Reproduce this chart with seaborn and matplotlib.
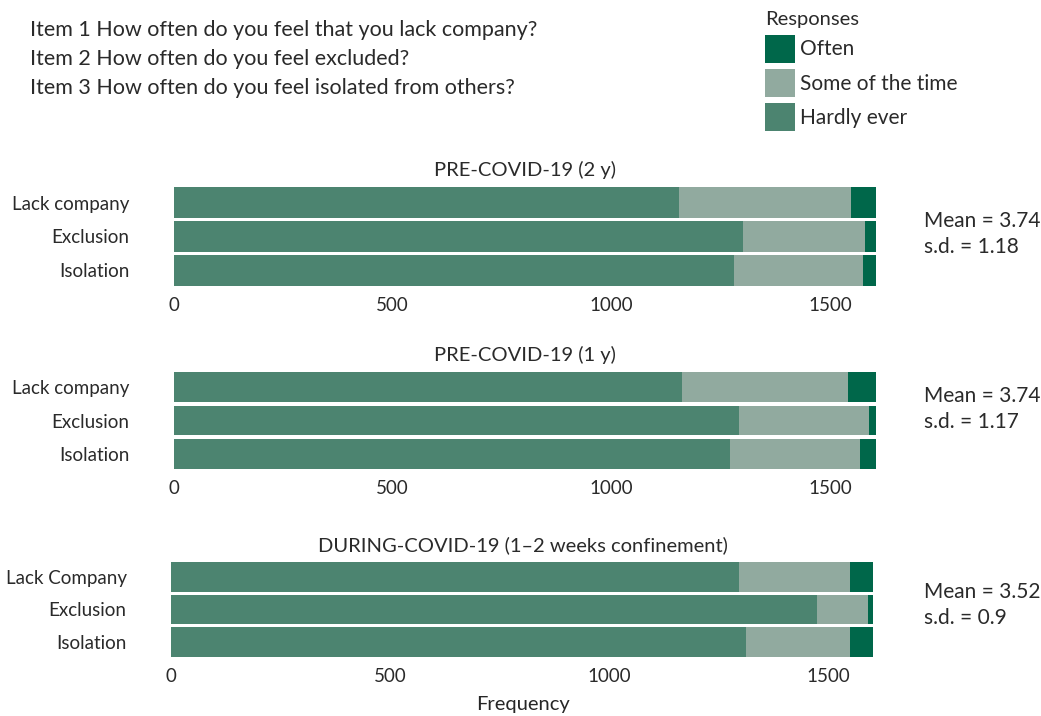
import pandas as pd
import matplotlib
matplotlib.use('Agg')
import matplotlib.pyplot as plt
import seaborn as sns
from matplotlib.patches import Patch

sns.set_style('white')
plt.rcParams['font.family'] = ['Lato', 'DejaVu Sans']
plt.rcParams['text.color'] = '#2a2a2a'
plt.rcParams['xtick.color'] = '#2a2a2a'
plt.rcParams['ytick.color'] = '#2a2a2a'

# Data (frequencies)
items = ['Lack company', 'Exclusion', 'Isolation']
items_during = ['Lack Company', 'Exclusion', 'Isolation']
titles = ['PRE-COVID-19 (2 y)', 'PRE-COVID-19 (1 y)', 'DURING-COVID-19 (1–2 weeks confinement)']
hardly_ever = [[1155, 1301, 1281], [1162, 1292, 1271], [1297, 1475, 1313]]
some_time = [[393, 279, 295], [379, 297, 298], [253, 116, 237]]
often = [[57, 25, 29], [64, 16, 36], [52, 11, 52]]
means = ['3.74', '3.74', '3.52']
sds = ['1.18', '1.17', '0.9']
ticks = [0, 500, 1000, 1500]

colors = {'Often': '#00674a', 'Some of the time': '#91aa9f', 'Hardly ever': '#4c8470'}

fig = plt.figure(figsize=(10.41, 7.16), dpi=100)

# question texts at top left
questions = ['Item 1 How often do you feel that you lack company?',
             'Item 2 How often do you feel excluded?',
             'Item 3 How often do you feel isolated from others?']
for i, q in enumerate(questions):
    fig.text(30 / 1041, 1 - (30 + i * 29) / 716, q, fontsize=15.5, va='center', ha='left')

# axes positions (left, bottom, width, height) in figure fraction
positions = [(174 / 1041, 1 - 286 / 716, 702 / 1041, 99 / 716),
             (174 / 1041, 1 - 469 / 716, 702 / 1041, 97 / 716),
             (171 / 1041, 1 - 657 / 716, 703 / 1041, 95 / 716)]
text_y = [(221, 247), (396, 422), (592, 618)]

for k in range(3):
    labels = items_during if k == 2 else items
    df = pd.DataFrame({'item': labels,
                       'hardly': hardly_ever[k],
                       'some': some_time[k],
                       'often': often[k]})
    df['cum_some'] = df['hardly'] + df['some']
    df['cum_often'] = df['cum_some'] + df['often']

    ax = fig.add_axes(positions[k])
    sns.barplot(data=df, x='cum_often', y='item', color=colors['Often'], width=0.9,
                saturation=1, ax=ax)
    sns.barplot(data=df, x='cum_some', y='item', color=colors['Some of the time'], width=0.9,
                saturation=1, ax=ax)
    sns.barplot(data=df, x='hardly', y='item', color=colors['Hardly ever'], width=0.9,
                saturation=1, ax=ax)
    for p in ax.patches:
        p.set_linewidth(0)

    ax.set_xlim(0, 1605)
    ax.set_ylim(2.46, -0.46)
    ax.set_xticks(ticks)
    ax.set_xticklabels([str(t) for t in ticks])
    ax.tick_params(axis='x', length=0, pad=8, labelsize=13.5)
    ax.tick_params(axis='y', length=0, pad=32, labelsize=13.5)
    ax.set_ylabel('')
    ax.set_xlabel('Frequency' if k == 2 else '', fontsize=14.5, labelpad=8)
    ax.set_title(titles[k], fontsize=14.5, pad=8)
    sns.despine(ax=ax, left=True, bottom=True)

    fig.text(924 / 1041, 1 - text_y[k][0] / 716, 'Mean = ' + means[k], fontsize=15, va='center')
    fig.text(924 / 1041, 1 - text_y[k][1] / 716, 's.d. = ' + sds[k], fontsize=15, va='center')

handles = [Patch(facecolor=colors[c], edgecolor='none') for c in colors]
leg = fig.legend(handles, list(colors.keys()), title='Responses', loc='upper left',
                 bbox_to_anchor=(757 / 1041, 1 - 3 / 716), frameon=False, fontsize=15,
                 title_fontsize=14.5, handlelength=1.4, handleheight=1.7, labelspacing=0.3,
                 handletextpad=0.25, borderaxespad=0)
leg._legend_box.align = 'left'

fig.savefig('out.png', dpi=100)
